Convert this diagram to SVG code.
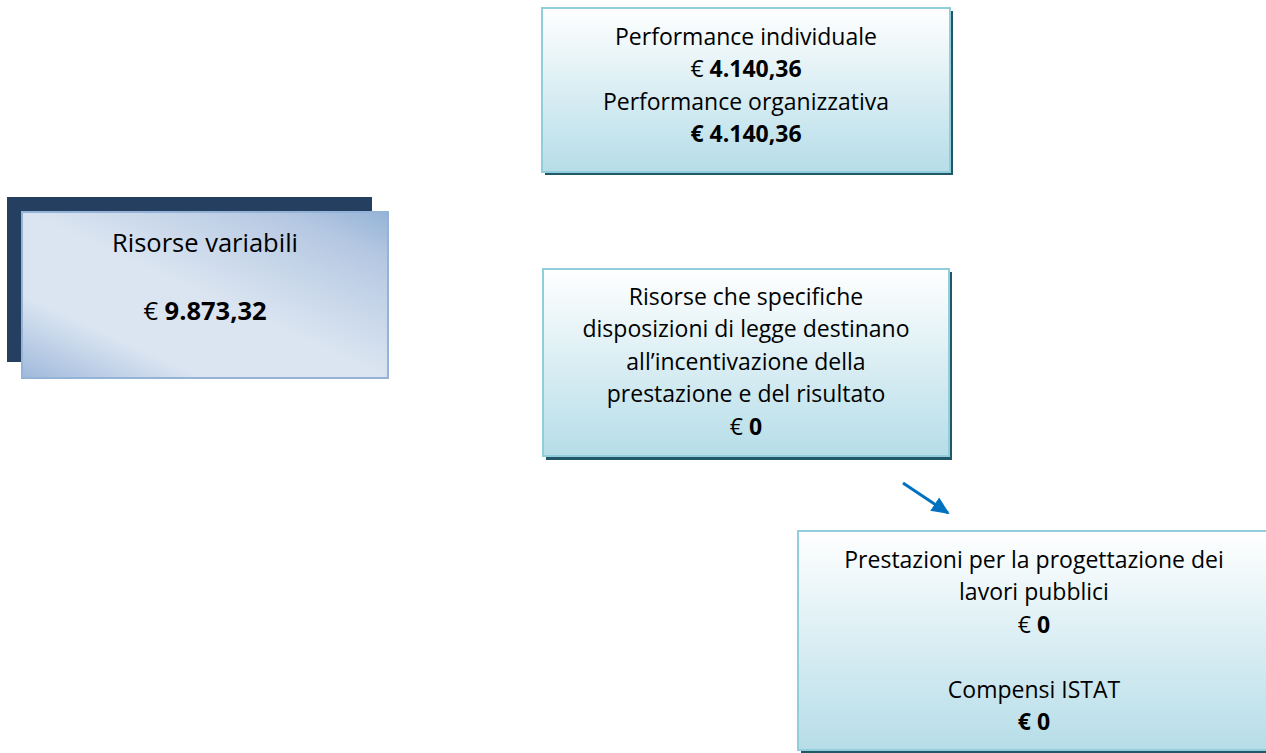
<svg xmlns="http://www.w3.org/2000/svg" width="1266" height="753" viewBox="0 0 1266 753">
<style>
text{font-family:"Open Sans","Liberation Sans",sans-serif;font-size:23px;fill:#000;text-anchor:middle}
.b{font-weight:bold}
.big{font-size:25.5px}
.box{fill:url(#gTeal);stroke:#92cddc;stroke-width:2}
.sh{fill:#215868}
</style>
<defs>
<linearGradient id="gTeal" x1="0" y1="0" x2="0" y2="1">
<stop offset="0" stop-color="#ffffff"/>
<stop offset="1" stop-color="#b6dde8"/>
</linearGradient>
<linearGradient id="gBlue" x1="0" y1="1" x2="1" y2="0">
<stop offset="0" stop-color="#9fb9dc"/>
<stop offset="0.25" stop-color="#dbe5f1"/>
<stop offset="0.5" stop-color="#dbe5f1"/>
<stop offset="0.85" stop-color="#b5c8e2"/>
<stop offset="1" stop-color="#95b3d7"/>
</linearGradient>
<marker id="ah" markerWidth="18" markerHeight="16" refX="16" refY="8" orient="auto" markerUnits="userSpaceOnUse" viewBox="0 0 18 16">
<path d="M0,0 L18,8 L0,16 z" fill="#0070c0"/>
</marker>
</defs>
<g id="node-risorse-variabili">
<rect x="7" y="197" width="365" height="165" fill="#243f60"/>
<rect x="22" y="212" width="366" height="166" fill="url(#gBlue)" stroke="#95b3d7" stroke-width="2"/>
<text x="205" y="252" class="big">Risorse variabili</text>
<text x="205" y="320" class="big"><tspan>€ </tspan><tspan class="b">9.873,32</tspan></text>
</g>
<g id="node-performance">
<rect class="sh" x="545" y="11" width="408" height="164"/>
<rect class="box" x="542" y="8" width="408" height="164"/>
<text x="746" y="45">Performance individuale</text>
<text x="746" y="77"><tspan>€ </tspan><tspan class="b">4.140,36</tspan></text>
<text x="746" y="110">Performance organizzativa</text>
<text x="746" y="142" class="b">€ 4.140,36</text>
</g>
<g id="node-risorse-legge">
<rect class="sh" x="546" y="272" width="406" height="188"/>
<rect class="box" x="543" y="269" width="406" height="187"/>
<text x="746" y="305">Risorse che specifiche</text>
<text x="746" y="337">disposizioni di legge destinano</text>
<text x="746" y="370">all’incentivazione della</text>
<text x="746" y="402">prestazione e del risultato</text>
<text x="746" y="435"><tspan>€ </tspan><tspan class="b">0</tspan></text>
</g>
<g id="node-prestazioni">
<rect class="sh" x="801" y="534" width="472" height="219"/>
<rect class="box" x="798" y="531" width="472" height="219"/>
<text x="1034" y="568">Prestazioni per la progettazione dei</text>
<text x="1034" y="600">lavori pubblici</text>
<text x="1034" y="633"><tspan>€ </tspan><tspan class="b">0</tspan></text>
<text x="1034" y="698">Compensi ISTAT</text>
<text x="1034" y="730" class="b">€ 0</text>
</g>
<g id="connectors">
<line x1="903" y1="483" x2="948" y2="513" stroke="#0070c0" stroke-width="3" marker-end="url(#ah)"/>
</g>
</svg>
